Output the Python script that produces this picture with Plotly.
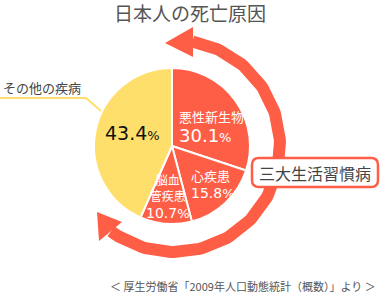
import numpy as np
import plotly.graph_objects as go

# ---- data ----
causes = ["悪性新生物", "心疾患", "脳血管疾患", "その他の疾病"]
shares = [30.1, 15.8, 10.7, 43.4]
slice_colors = ["#FF5E46", "#FF5E46", "#FF5E46", "#FFDF6B"]
title_text = "日本人の死亡原因"
group_label = "三大生活習慣病"
source_text = "＜ 厚生労働省「2009年人口動態統計（概数）」より ＞"

W, H = 380, 295
RED = "#FF5E46"
YEL = "#FFDF6B"
JP = "Noto Sans CJK JP"
NUM = "DejaVu Sans"

# pie geometry (pixels)
cx, cy, R = 172, 146, 78

fig = go.Figure()

# circular arrow arc (decoration)
acx, acy, ar = 174, 146, 106
th = np.radians(np.linspace(80, -126.5, 120))
ax_ = acx + ar * np.cos(th)
ay_ = acy - ar * np.sin(th)
fig.add_trace(go.Scatter(x=ax_, y=ay_, mode="lines",
                         line=dict(color=RED, width=12),
                         hoverinfo="skip", showlegend=False))

fig.add_trace(go.Pie(
    labels=causes, values=shares, sort=False, direction="clockwise",
    rotation=0, textinfo="none", hoverinfo="label+value",
    marker=dict(colors=slice_colors, line=dict(color="white", width=2)),
    domain=dict(x=[(cx - R) / W, (cx + R) / W],
                y=[1 - (cy + R) / H, 1 - (cy - R) / H]),
    showlegend=False,
))

shapes = []
# arrowheads
shapes.append(dict(type="path", xref="x", yref="y",
                   path="M 165 43 L 193 27 L 193 57 Z",
                   fillcolor=RED, line=dict(width=0), layer="above"))
shapes.append(dict(type="path", xref="x", yref="y",
                   path="M 97 212 L 99 241 L 122 222 Z",
                   fillcolor=RED, line=dict(width=0), layer="above"))
# leader line for "others"
shapes.append(dict(type="path", xref="x", yref="y",
                   path="M 0 98 L 86 98 L 101 111",
                   line=dict(color=YEL, width=2), layer="above"))
# rounded label box
x0, x1, y0, y1, r = 252, 378, 158, 187, 7
box = (f"M {x0+r} {y0} L {x1-r} {y0} Q {x1} {y0} {x1} {y0+r} "
       f"L {x1} {y1-r} Q {x1} {y1} {x1-r} {y1} L {x0+r} {y1} "
       f"Q {x0} {y1} {x0} {y1-r} L {x0} {y0+r} Q {x0} {y0} {x0+r} {y0} Z")
shapes.append(dict(type="path", xref="x", yref="y", path=box,
                   fillcolor="white", line=dict(color=RED, width=2.5),
                   layer="above"))


def jp(t, size):
    return f"<span style='font-size:{size}px'>{t}</span>"


def pct(v, big, small):
    return (f"<span style='font-family:{NUM};font-size:{big}px'>{v}</span>"
            f"<span style='font-family:{NUM};font-size:{small}px'>%</span>")


ann = []


def A(x, y, text, size, color, font=JP, xanchor="left", align="left"):
    ann.append(dict(x=x, y=y, xref="x", yref="y", text=text, showarrow=False,
                    xanchor=xanchor, yanchor="middle", align=align,
                    font=dict(family=font, size=size, color=color)))


A(190, 12, title_text, 19, "#555555", xanchor="center")
A(177, 126, jp(causes[0], 13) + "<br>" + pct(shares[0], 18, 13), 15, "white")
A(189, 183, jp(causes[1], 13) + "<br>" + pct(shares[1], 14, 13), 13, "white")
A(168, 195.5, jp(causes[2][:2], 12) + "<br>" + jp(causes[2][2:], 12) + "<br>"
  + pct(shares[2], 14, 13), 12.5, "white", xanchor="center", align="center")
A(103, 133, pct(shares[3], 19, 13), 19, "#111111", NUM)
A(1, 87, causes[3], 13, "#444444")
A(315, 172.5, group_label, 16, "#444444", xanchor="center")
A(378, 286, source_text, 11, "#555555", xanchor="right")

fig.update_layout(
    width=W, height=H, margin=dict(l=0, r=0, t=0, b=0),
    paper_bgcolor="white", plot_bgcolor="white",
    xaxis=dict(range=[0, W], visible=False, fixedrange=True),
    yaxis=dict(range=[H, 0], visible=False, fixedrange=True),
    shapes=shapes, annotations=ann, showlegend=False,
)

fig.write_html("out.html")
